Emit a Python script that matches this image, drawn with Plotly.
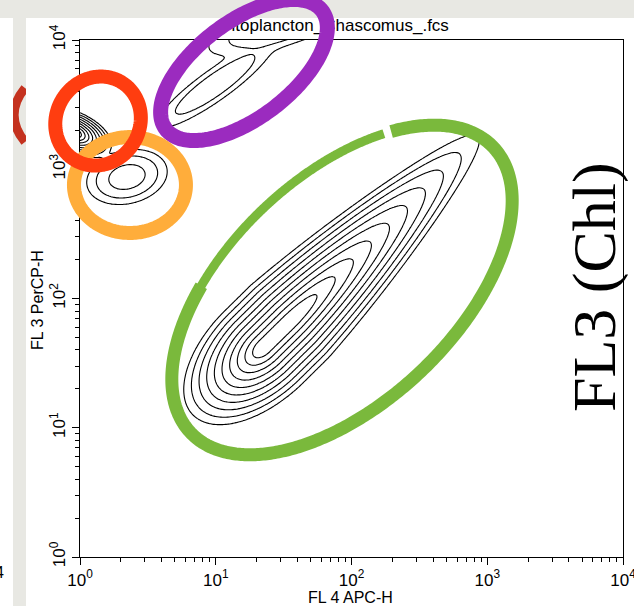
import numpy as np
import plotly.graph_objects as go

# ---------------------------------------------------------------- canvas
W, H = 634, 606
FRAME_L, FRAME_R, FRAME_T, FRAME_B = 80, 623, 40, 557   # plot frame, pixels

# ---------------------------------------------------------------- axes (log10 decades)
X_RANGE = [0, 4]          # FL 4 APC-H
Y_RANGE = [0, 4]          # FL 3 PerCP-H
major_ticks = [1, 10, 100, 1000, 10000]
major_text = ["10<sup>0</sup>", "10<sup>1</sup>", "10<sup>2</sup>",
              "10<sup>3</sup>", "10<sup>4</sup>"]
minor_ticks = [m * 10 ** k for k in range(4) for m in range(2, 10)]

plot_title = "Fitoplancton_Chascomus_.fcs"
x_title = "FL 4 APC-H"
y_title = "FL 3 PerCP-H"
side_label = "FL3 (Chl)"

# ---------------------------------------------------------------- populations
# main chlorophyll ridge (log FL4, log FL3 of its rear end, orientation, profile)
ridge_start = (1.04, 1.30)
ridge_angle = 46.0
ridge_plateau = (0.455, 0.727)    # along-ridge extent of the density plateau
ridge_rise = 0.167                # rear flank width
ridge_fall = 0.447                # front flank width
ridge_width = 0.090               # cross-ridge spread
ridge_taper = 0.35

# smaller populations: centre, spreads, orientation, relative peak density
pop_lx = [-0.059, 0.346, 0.994, 1.55]
pop_ly = [3.288, 2.940, 3.652, 4.15]
pop_s_major = [0.070, 0.103, 0.200, 0.220]
pop_s_minor = [0.036, 0.070, 0.045, 0.060]
pop_angle = [-25, 15, 37, 20]
pop_peak = [1.0, 0.0036, 0.0015, 0.0032]

# contour levels on the sqrt(-ln density) scale
level_start, level_end, level_step = 0.45, 3.15, 0.3

# ---------------------------------------------------------------- gates
gate_colors = ["#7ab93c", "#9b2bbf", "#ffad3b", "#ff3d10"]
gate_lx = [1.930, 1.208, 0.368, 0.133]
gate_ly = [2.066, 3.768, 2.878, 3.373]
gate_a = [1.570, 0.736, 0.4125, 0.348]
gate_b = [0.856, 0.365, 0.371, 0.311]
gate_angle = [45.9, 39.4, 0.0, 70.9]
gate_width = [13, 15, 14, 14]
green_gap_at = (2.269, 3.273)     # break in the hand-drawn green gate
green_thin_from = (0.884, 2.104)  # lighter stroke from here up to the break

# ---------------------------------------------------------------- helpers
DX0, DX1 = FRAME_L / W, FRAME_R / W
DY0, DY1 = 1 - FRAME_B / H, 1 - FRAME_T / H


def fx_px(px):
    return px / W


def fy_px(py):
    return 1 - py / H


def fx_dec(lx):
    return DX0 + (lx - X_RANGE[0]) / (X_RANGE[1] - X_RANGE[0]) * (DX1 - DX0)


def fy_dec(ly):
    return DY0 + (ly - Y_RANGE[0]) / (Y_RANGE[1] - Y_RANGE[0]) * (DY1 - DY0)


def gauss(LX, LY, cx, cy, s1, s2, ang, amp):
    t = np.radians(ang)
    dx, dy = LX - cx, LY - cy
    u = dx * np.cos(t) + dy * np.sin(t)
    v = -dx * np.sin(t) + dy * np.cos(t)
    return amp * np.exp(-0.5 * ((u / s1) ** 2 + (v / s2) ** 2))


def ridge(LX, LY):
    t = np.radians(ridge_angle)
    dx, dy = LX - ridge_start[0], LY - ridge_start[1]
    u = dx * np.cos(t) + dy * np.sin(t)
    v = -dx * np.sin(t) + dy * np.cos(t)
    u1, u2 = ridge_plateau
    h = np.where(u < u1, np.exp(-(u - u1) ** 2 / (2 * ridge_rise ** 2)),
                 np.where(u > u2, np.exp(-(u - u2) ** 2 / (2 * ridge_fall ** 2)), 1.0))
    sp = ridge_width * (1 - ridge_taper * np.clip((u - u2) / 1.9, 0, 1))
    return h * np.exp(-v ** 2 / (2 * sp ** 2))


def ellipse_pts(cx, cy, a, b, ang, t0=0.0, t1=2 * np.pi, n=240):
    t = np.linspace(t0, t1, n)
    r = np.radians(ang)
    x = cx + a * np.cos(t) * np.cos(r) - b * np.sin(t) * np.sin(r)
    y = cy + a * np.cos(t) * np.sin(r) + b * np.sin(t) * np.cos(r)
    return x, y


def nearest_t(i, point):
    t = np.linspace(0, 2 * np.pi, 3000, endpoint=False)
    xs, ys = ellipse_pts(gate_lx[i], gate_ly[i], gate_a[i], gate_b[i], gate_angle[i],
                         0, 2 * np.pi, 3000)
    return t[np.argmin((xs - point[0]) ** 2 + (ys - point[1]) ** 2)]


def path_from(xs, ys, close=False):
    pts = ["%.5f,%.5f" % (fx_dec(x), fy_dec(y)) for x, y in zip(xs, ys)]
    return "M" + "L".join(pts) + ("Z" if close else "")


def gate_shape(i, t0, t1, width, n=300, close=False):
    xs, ys = ellipse_pts(gate_lx[i], gate_ly[i], gate_a[i], gate_b[i], gate_angle[i],
                         t0, t1, n)
    return dict(type="path", xref="paper", yref="paper", layer="above",
                path=path_from(xs, ys, close),
                line=dict(color=gate_colors[i], width=width))


# ---------------------------------------------------------------- density grid
lx = np.linspace(-0.6, 4.4, 401)
ly = np.linspace(-0.2, 4.5, 377)
LX, LY = np.meshgrid(lx, ly)
D = ridge(LX, LY)
for i in range(len(pop_lx)):
    D = D + gauss(LX, LY, pop_lx[i], pop_ly[i], pop_s_major[i], pop_s_minor[i],
                  pop_angle[i], pop_peak[i])
Z = np.round(np.sqrt(-np.log(np.clip(D, 1e-40, 1.0))), 3)

fig = go.Figure()
fig.add_trace(go.Contour(
    x=10 ** lx, y=10 ** ly, z=Z,
    contours=dict(start=level_start, end=level_end, size=level_step, coloring="lines"),
    colorscale=[[0, "black"], [1, "black"]], showscale=False,
    line=dict(width=1.1, color="black"), hoverinfo="skip",
    xaxis="x", yaxis="y",
))

# sample title on a full-page helper layer so the drawn gates pass over it
fig.add_trace(go.Scatter(
    x=[335], y=[27], mode="text", text=[plot_title],
    textfont=dict(family="Liberation Sans, Arial", size=17, color="black"),
    hoverinfo="skip", showlegend=False, xaxis="x2", yaxis="y2",
))

shapes = []
# slide background pieces
shapes.append(dict(type="path", xref="paper", yref="paper", layer="below",
                   path="M%.4f,%.4f Q%.4f,%.4f %.4f,%.4f" % (
                       fx_px(25), fy_px(88), fx_px(3), fy_px(115), fx_px(25), fy_px(142)),
                   line=dict(color="#c4321f", width=9)))
shapes.append(dict(type="rect", xref="paper", yref="paper", layer="below",
                   x0=fx_px(26), x1=fx_px(W + 5), y0=fy_px(18), y1=fy_px(H + 5),
                   fillcolor="white", line=dict(width=0)))
shapes.append(dict(type="rect", xref="paper", yref="paper", layer="below",
                   x0=fx_px(-5), x1=fx_px(13), y0=fy_px(18), y1=fy_px(H + 5),
                   fillcolor="white", line=dict(width=0)))

# gates: green one is open at the break, thinner on its upper-left flank
tg = nearest_t(0, green_gap_at)
tt = nearest_t(0, green_thin_from)
if tt > tg:
    tt -= 2 * np.pi
gap = 0.022
shapes.append(gate_shape(0, tt, tg - gap, gate_width[0], 400))
shapes.append(gate_shape(0, tg + gap, tt + 2 * np.pi + 0.04, 9, 200))
for i in range(1, len(gate_lx)):
    shapes.append(gate_shape(i, 0, 2 * np.pi, gate_width[i], 240, close=True))

annotations = [
    dict(text=x_title, xref="paper", yref="paper", x=fx_px(350), y=fy_px(597),
         xanchor="center", yanchor="middle", showarrow=False,
         font=dict(family="Liberation Sans, Arial", size=16, color="black")),
    dict(text=y_title, xref="paper", yref="paper", x=fx_px(37), y=fy_px(300),
         xanchor="center", yanchor="middle", textangle=-90, showarrow=False,
         font=dict(family="Liberation Sans, Arial", size=16, color="black")),
    dict(text=side_label, xref="paper", yref="paper", x=fx_px(594), y=fy_px(287),
         xanchor="center", yanchor="middle", textangle=-90, showarrow=False,
         font=dict(family="Liberation Serif, Times New Roman, serif", size=62,
                   color="black")),
    dict(text="4", xref="paper", yref="paper", x=fx_px(6), y=fy_px(572),
         xanchor="right", yanchor="middle", showarrow=False,
         font=dict(family="Liberation Sans, Arial", size=16, color="black")),
]

axis_font = dict(family="Liberation Sans, Arial", size=17, color="black")
common = dict(type="log", tickmode="array", tickvals=major_ticks, ticktext=major_text,
              ticks="outside", ticklen=7, tickwidth=1, tickcolor="black",
              showline=True, linecolor="black", linewidth=1.2, mirror=True,
              showgrid=False, zeroline=False, tickfont=axis_font,
              ticklabeloverflow="allow",
              minor=dict(tickmode="array", tickvals=minor_ticks, ticks="outside",
                         ticklen=4, tickwidth=1, tickcolor="black", showgrid=False))

fig.update_layout(
    width=W, height=H, margin=dict(l=0, r=0, t=0, b=0, autoexpand=False),
    paper_bgcolor="#e8e8e3", plot_bgcolor="rgba(0,0,0,0)",
    xaxis=dict(range=X_RANGE, domain=[DX0, DX1], anchor="y", **common),
    yaxis=dict(range=Y_RANGE, domain=[DY0, DY1], anchor="x", tickangle=-90, **common),
    xaxis2=dict(range=[0, W], domain=[0, 1], anchor="y2", visible=False, fixedrange=True),
    yaxis2=dict(range=[H, 0], domain=[0, 1], anchor="x2", visible=False, fixedrange=True),
    shapes=shapes, annotations=annotations, showlegend=False,
)
fig.write_html("out.html")
